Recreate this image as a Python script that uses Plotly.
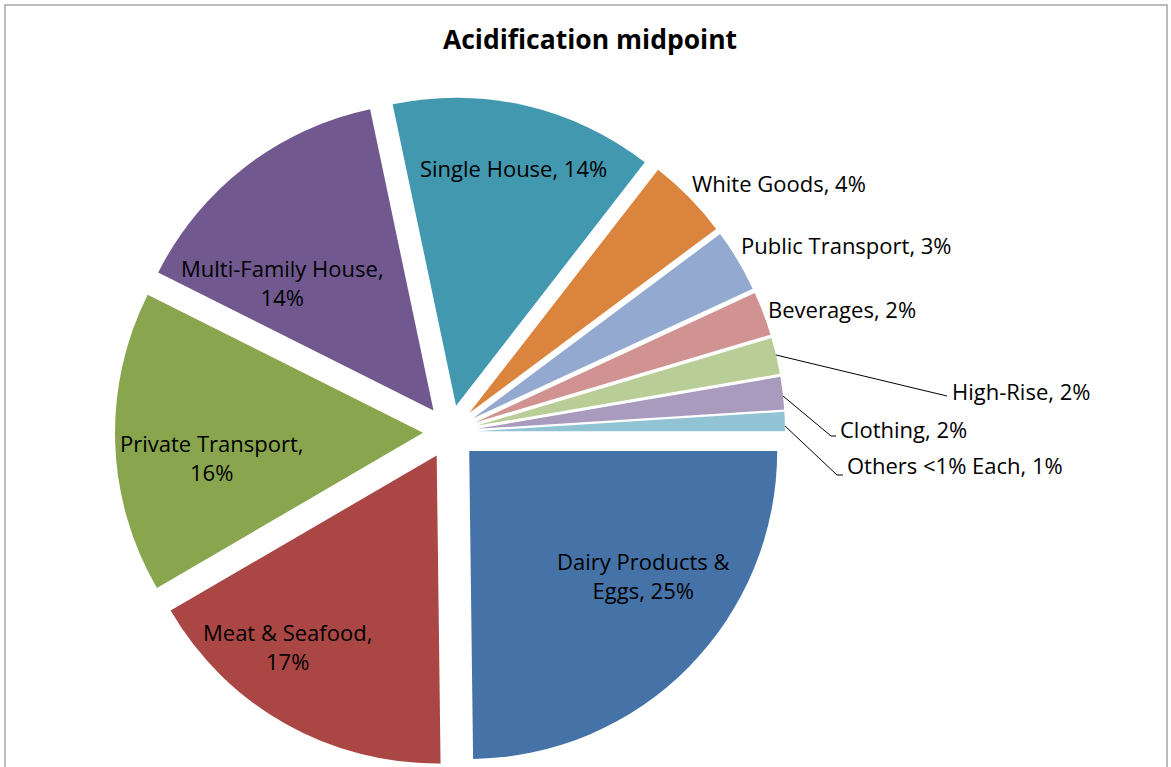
import plotly.graph_objects as go

# Share of the acidification midpoint by consumption category (%)
categories = [
    "Dairy Products &<br>Eggs", "Meat & Seafood", "Private Transport",
    "Multi-Family House", "Single House", "White Goods", "Public Transport",
    "Beverages", "High-Rise", "Clothing", "Others <1% Each",
]
shares = [24.8, 16.8, 15.8, 14.3, 13.8, 4.3, 3.3, 2.3, 1.9, 1.7, 1.0]
colors = [
    "#4572A7", "#AA4643", "#89A54E", "#71588F", "#4198AF", "#DB843D",
    "#93A9CF", "#D19392", "#B9CD96", "#A99BBD", "#92C3D4",
]

W, H = 1171, 767
FONT = "Open Sans"


def px(x, y):
    """Pixel position -> paper coordinates (margins are zero)."""
    return x / W, 1 - y / H


total = sum(shares)
pct = [round(v / total * 100) for v in shares]

fig = go.Figure(
    go.Pie(
        labels=categories,
        values=shares,
        sort=False,
        direction="clockwise",
        rotation=90,
        pull=[0.0877] * len(shares),
        marker=dict(colors=colors, line=dict(width=0)),
        textinfo="none",
        hoverinfo="skip",
        showlegend=False,
        domain=dict(x=[0, 0.76857], y=[0, 670 / H]),
    )
)

# Label anchor points (pixel centres) and line breaks for each category
label_pos = [
    (643, 575, "Dairy Products &<br>Eggs, {p}%"),
    (287, 646, "Meat & Seafood,<br>{p}%"),
    (211, 457, "Private Transport,<br>{p}%"),
    (282, 282, "Multi-Family House,<br>{p}%"),
    (513, 168, "Single House, {p}%"),
    (690, 183, "White Goods, {p}%"),
    (739, 245, "Public Transport, {p}%"),
    (766, 309, "Beverages, {p}%"),
    (950, 391, "High-Rise, {p}%"),
    (838, 429, "Clothing, {p}%"),
    (845, 465, "Others <1% Each, {p}%"),
]

annotations = []
for i, (x, y, tmpl) in enumerate(label_pos):
    ax, ay = px(x, y)
    left = i >= 5
    annotations.append(dict(
        x=ax, y=ay, xref="paper", yref="paper",
        text=tmpl.format(p=pct[i]),
        showarrow=False,
        xanchor="left" if left else "center",
        yanchor="middle",
        align="left" if left else "center",
        font=dict(family=FONT, size=22, color="#000000"),
    ))

# Leader lines for the three thinnest outside labels
leaders = [
    [(776, 355), (947, 396)],
    [(783, 396), (831, 436), (836, 436)],
    [(785, 426), (837, 475), (843, 475)],
]
shapes = []
for pts in leaders:
    path = ""
    for k, (x, y) in enumerate(pts):
        a, b = px(x, y)
        path += ("M" if k == 0 else "L") + f"{a:.5f},{b:.5f} "
    shapes.append(dict(type="path", path=path, xref="paper", yref="paper",
                       line=dict(color="#000000", width=1)))

# Chart frame (open at the bottom edge)
fx0, fy0 = px(5, 5)
fx1, _ = px(1167, 5)
_, fyb = px(0, H + 10)
shapes.append(dict(
    type="path", xref="paper", yref="paper",
    path=f"M{fx0},{fyb} L{fx0},{fy0} L{fx1},{fy0} L{fx1},{fyb}",
    line=dict(color="#A6A6A6", width=1.5),
))

fig.update_layout(
    width=W, height=H,
    margin=dict(l=0, r=0, t=0, b=0),
    paper_bgcolor="white", plot_bgcolor="white",
    title=dict(
        text="<b>Acidification midpoint</b>",
        x=590 / W, xanchor="center", y=1 - 40 / H, yanchor="middle",
        font=dict(family=FONT, size=26.5, color="#000000"),
    ),
    annotations=annotations,
    shapes=shapes,
)

fig.write_html("out.html")
